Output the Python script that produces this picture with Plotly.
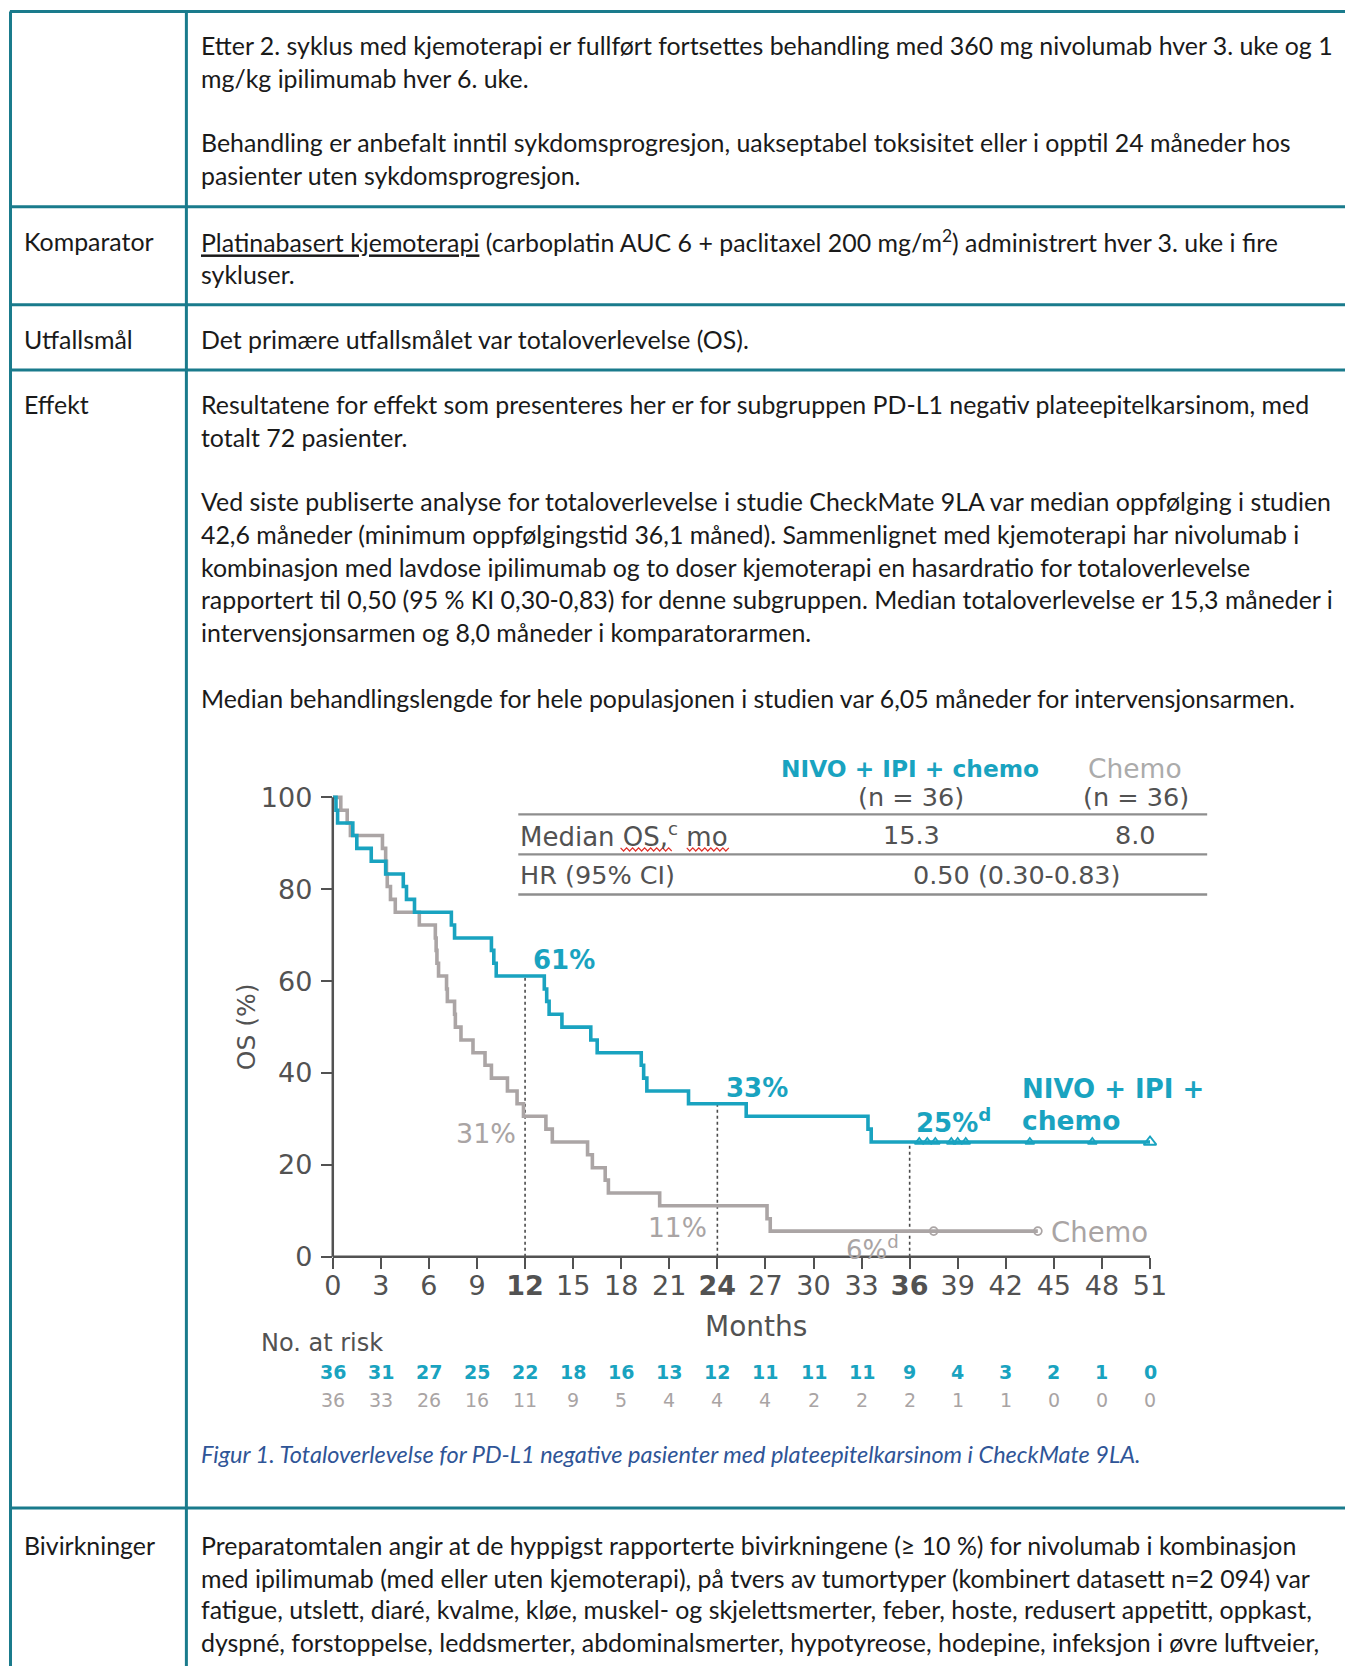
import plotly.graph_objects as go

# ---------------------------------------------------------------------------
# Page geometry.  Positions below are written in layout pixels of the page;
# px()/py() turn them into paper fractions, including a small calibration
# of the rendered page (slight shrink plus a left offset).
# ---------------------------------------------------------------------------
W, H = 1345, 1682
SX, OX = 0.9906, 9.1
SY, OY = 0.98885, 2.5


def px(x):
    return ((x - OX) / SX) / W


def py(y):
    return 1 - ((y - OY) / SY) / H


TEAL_TABLE = "#1A7B8C"
TEAL = "#19A3C0"
GREY_LINE = "#ABA5A5"
GREY_TEXT = "#A9A4A4"
DARK = "#525252"
BODY = "#1A1A1A"
CAPTION = "#2F5597"
BODY_FONT = "Lato"
CHART_FONT = "DejaVu Sans"
BODY_SIZE = 24.9

# ---------------------------------------------------------------------------
# Kaplan-Meier data: overall survival (%) by month
# ---------------------------------------------------------------------------
nivo_t = [0, 0.2, 0.3, 1.25, 1.5, 2.4, 3.3, 4.4, 4.6, 5.1, 7.4, 7.6, 9.9, 10.05,
          10.2, 13.2, 13.35, 13.5, 14.3, 16.1, 16.5, 19.25, 19.4, 19.6, 22.2,
          25.8, 33.4, 33.6, 51.0]
nivo_s = [100, 97.2, 94.4, 91.7, 88.9, 86.1, 83.3, 80.6, 77.8, 75.0, 72.2, 69.4,
          66.7, 63.9, 61.1, 58.3, 55.6, 52.8, 50.0, 47.2, 44.4, 41.7, 38.9, 36.1,
          33.3, 30.6, 27.8, 25.0, 25.0]

chemo_t = [0, 0.5, 0.9, 1.1, 3.1, 3.3, 3.35, 3.4, 3.6, 3.9, 5.4, 6.4, 6.45, 6.5,
           6.6, 7.1, 7.15, 7.6, 7.65, 8.0, 8.75, 9.5, 9.9, 10.9, 11.5, 11.9, 13.3,
           13.7, 15.9, 16.2, 17.0, 17.2, 20.4, 27.1, 27.3, 44.0]
chemo_s = [100, 97.2, 94.4, 91.7, 88.9, 86.1, 83.3, 80.6, 77.8, 75.0, 72.2, 69.4,
           66.7, 63.9, 61.1, 58.3, 55.6, 52.8, 50.0, 47.2, 44.4, 41.7, 38.9, 36.1,
           33.3, 30.6, 27.8, 25.0, 22.2, 19.4, 16.7, 13.9, 11.1, 8.3, 5.6, 5.6]

# censoring marks
nivo_cens_t = [36.6, 37.1, 37.6, 38.6, 39.0, 39.5, 43.5, 47.4]
nivo_cens_s = [25.0, 25.0, 25.0, 25.0, 25.0, 25.0, 25.0, 25.0]
nivo_end_t = [51.0]
nivo_end_s = [25.0]
chemo_cens_t = [37.5, 44.0]
chemo_cens_s = [5.6, 5.6]

# landmark rates (month, OS %)
nivo_landmarks = [(12, 61.1), (24, 33.3), (36, 25.0)]

# number at risk
risk_months = list(range(0, 52, 3))
risk_nivo = [36, 31, 27, 25, 22, 18, 16, 13, 12, 11, 11, 11, 9, 4, 3, 2, 1, 0]
risk_chemo = [36, 33, 26, 16, 11, 9, 5, 4, 4, 4, 2, 2, 2, 1, 1, 0, 0, 0]

x_ticks = list(range(0, 52, 3))
x_ticktext = [f"<b>{m}</b>" if m in (12, 24, 36) else str(m) for m in x_ticks]
y_ticks = [0, 20, 40, 60, 80, 100]

# ---------------------------------------------------------------------------
# Axis placement: month 0 at x=332 px, 51 at 1147 px; 0 % at y=1256, 100 % at 797
# ---------------------------------------------------------------------------
X0, PX_PER_MONTH = 332, (1147 - 332) / 51
Y0, PX_PER_PCT = 1256, (1256 - 797) / 100
XMAX, YMAX = 52.5, 103
x_domain = [px(X0), px(X0 + XMAX * PX_PER_MONTH)]
y_domain = [py(Y0), py(Y0 - YMAX * PX_PER_PCT)]

fig = go.Figure()

fig.add_trace(go.Scatter(x=chemo_t, y=chemo_s, mode="lines", line_shape="hv",
                         line=dict(color=GREY_LINE, width=3.6), hoverinfo="skip"))
fig.add_trace(go.Scatter(x=nivo_t, y=nivo_s, mode="lines", line_shape="hv",
                         line=dict(color=TEAL, width=3.6), hoverinfo="skip"))
fig.add_trace(go.Scatter(x=chemo_cens_t, y=chemo_cens_s, mode="markers",
                         marker=dict(symbol="circle-open", size=8, color=GREY_LINE,
                                     line=dict(width=1.7)), hoverinfo="skip"))
fig.add_trace(go.Scatter(x=nivo_cens_t, y=nivo_cens_s, mode="markers",
                         marker=dict(symbol="triangle-up-open", size=8, color=TEAL,
                                     line=dict(width=1.7)), hoverinfo="skip"))
fig.add_trace(go.Scatter(x=nivo_end_t, y=nivo_end_s, mode="markers",
                         marker=dict(symbol="triangle-up-open", size=11, color=TEAL,
                                     line=dict(width=1.9)), hoverinfo="skip"))

shapes = []
annotations = []

# landmark guide lines
for m, s in nivo_landmarks:
    shapes.append(dict(type="line", xref="x", yref="y", x0=m, x1=m, y0=0, y1=s,
                       line=dict(color="#4A4A4A", width=1.6, dash="3px,3px"),
                       layer="below"))

# axis lines
shapes.append(dict(type="line", xref="paper", yref="paper",
                   x0=px(X0), x1=px(X0), y0=py(Y0), y1=py(797),
                   line=dict(color=DARK, width=2.5)))
shapes.append(dict(type="line", xref="paper", yref="paper",
                   x0=px(X0), x1=px(1147), y0=py(Y0), y1=py(Y0),
                   line=dict(color=DARK, width=2.5)))

# ---------------------------------------------------------------------------
# Table borders
# ---------------------------------------------------------------------------
for yy in [12, 207, 305, 370, 1507]:
    shapes.append(dict(type="line", xref="paper", yref="paper",
                       x0=px(10), x1=1, y0=py(yy), y1=py(yy),
                       line=dict(color=TEAL_TABLE, width=3)))
for xx in [10.6, 186]:
    shapes.append(dict(type="line", xref="paper", yref="paper",
                       x0=px(xx), x1=px(xx), y0=py(12), y1=0,
                       line=dict(color=TEAL_TABLE, width=3)))


def body(text, x, y, size=BODY_SIZE, color=BODY, italic=False):
    annotations.append(dict(
        text=text, x=px(x), y=py(y), xref="paper", yref="paper",
        xanchor="left", yanchor="middle", showarrow=False,
        font=dict(family=BODY_FONT, size=size, color=color,
                  style="italic" if italic else "normal")))


C1, C2 = 22, 199
body("Etter 2. syklus med kjemoterapi er fullført fortsettes behandling med 360 mg nivolumab hver 3. uke og 1", C2, 45)
body("mg/kg ipilimumab hver 6. uke.", C2, 78)
body("Behandling er anbefalt inntil sykdomsprogresjon, uakseptabel toksisitet eller i opptil 24 måneder hos", C2, 142)
body("pasienter uten sykdomsprogresjon.", C2, 175)

body("Komparator", C1, 241)
body("<span style=\"text-decoration:underline\">Platinabasert kjemoterapi</span> (carboplatin AUC 6 + paclitaxel 200 mg/m<sup>2</sup>) administrert hver 3. uke i fire", C2, 241)
body("sykluser.", C2, 274)

body("Utfallsmål", C1, 339)
body("Det primære utfallsmålet var totaloverlevelse (OS).", C2, 339)

body("Effekt", C1, 404)
body("Resultatene for effekt som presenteres her er for subgruppen PD-L1 negativ plateepitelkarsinom, med", C2, 404)
body("totalt 72 pasienter.", C2, 437)
body("Ved siste publiserte analyse for totaloverlevelse i studie CheckMate 9LA var median oppfølging i studien", C2, 501)
body("42,6 måneder (minimum oppfølgingstid 36,1 måned). Sammenlignet med kjemoterapi har nivolumab i", C2, 534)
body("kombinasjon med lavdose ipilimumab og to doser kjemoterapi en hasardratio for totaloverlevelse", C2, 567)
body("rapportert til 0,50 (95 % KI 0,30-0,83) for denne subgruppen. Median totaloverlevelse er 15,3 måneder i", C2, 599)
body("intervensjonsarmen og 8,0 måneder i komparatorarmen.", C2, 632)
body("Median behandlingslengde for hele populasjonen i studien var 6,05 måneder for intervensjonsarmen.", C2, 698)

body("Figur 1. Totaloverlevelse for PD-L1 negative pasienter med plateepitelkarsinom i CheckMate 9LA.",
     C2, 1453, size=23.5, color=CAPTION, italic=True)

body("Bivirkninger", C1, 1544)
body("Preparatomtalen angir at de hyppigst rapporterte bivirkningene (≥ 10 %) for nivolumab i kombinasjon", C2, 1544)
body("med ipilimumab (med eller uten kjemoterapi), på tvers av tumortyper (kombinert datasett n=2 094) var", C2, 1577)
body("fatigue, utslett, diaré, kvalme, kløe, muskel- og skjelettsmerter, feber, hoste, redusert appetitt, oppkast,", C2, 1608)
body("dyspné, forstoppelse, leddsmerter, abdominalsmerter, hypotyreose, hodepine, infeksjon i øvre luftveier,", C2, 1641)


# ---------------------------------------------------------------------------
# Summary table above the curves
# ---------------------------------------------------------------------------
def ptxt(text, x, y, size=25.5, color=DARK, anchor="center", bold=False):
    annotations.append(dict(
        text=text, x=px(x), y=py(y), xref="paper", yref="paper",
        xanchor=anchor, yanchor="middle", showarrow=False,
        font=dict(family=CHART_FONT, size=size, color=color,
                  weight="bold" if bold else "normal")))


ptxt("NIVO + IPI + chemo", 908, 768, size=23.3, color=TEAL, bold=True)
ptxt("(n = 36)", 909, 797)
ptxt("Chemo", 1132, 768, size=26.5, color="#ABABAB")
ptxt("(n = 36)", 1133, 797)
ptxt("Median OS,<sup>c</sup> mo", 517, 835, size=26, anchor="left")
ptxt("15.3", 909, 835)
ptxt("8.0", 1133, 835)
ptxt("HR (95% CI)", 517, 875, anchor="left")
ptxt("0.50 (0.30-0.83)", 1014, 875)
for yy in [814, 854, 894]:
    shapes.append(dict(type="line", xref="paper", yref="paper",
                       x0=px(517), x1=px(1204), y0=py(yy), y1=py(yy),
                       line=dict(color="#8E8E8E", width=2.4)))


# red proofing squiggle under "OS,c" and "mo"
def squiggle(x_start, x_end, y, step=3.0, amp=1.6):
    pts = []
    x = x_start
    k = 0
    while x <= x_end:
        pts.append((x, y + (amp if k % 2 else -amp)))
        x += step
        k += 1
    d = "M " + " L ".join(f"{px(a):.5f},{py(b):.5f}" for a, b in pts)
    return dict(type="path", xref="paper", yref="paper", path=d,
                line=dict(color="#E0302A", width=1.2))


shapes.append(squiggle(619, 672, 849))
shapes.append(squiggle(685, 727, 849))


# ---------------------------------------------------------------------------
# Labels inside the plot
# ---------------------------------------------------------------------------
def dtxt(text, x, y, size=26, color=TEAL, anchor="left", bold=False):
    annotations.append(dict(
        text=text, x=x, y=y, xref="x", yref="y", xanchor=anchor,
        yanchor="middle", showarrow=False,
        font=dict(family=CHART_FONT, size=size, color=color,
                  weight="bold" if bold else "normal")))


dtxt("61%", 12.4, 64.6, bold=True)
dtxt("33%", 24.4, 36.8, bold=True)
dtxt("25%<sup>d</sup>", 36.3, 29.6, bold=True)
dtxt("NIVO + IPI +", 42.9, 36.6, size=26, bold=True)
dtxt("chemo", 42.9, 29.6, size=26.5, bold=True)
dtxt("31%", 11.55, 26.8, color=GREY_TEXT, anchor="right", size=27)
dtxt("11%", 23.45, 6.3, color=GREY_TEXT, anchor="right", size=26.5)
dtxt("6%<sup>d</sup>", 31.9, 2.0, color=GREY_TEXT, size=26)
dtxt("Chemo", 44.7, 5.3, color=GREY_TEXT, size=27.5)

# axis titles
annotations.append(dict(text="OS (%)", x=px(246), y=py(1026), xref="paper", yref="paper",
                        textangle=-90, showarrow=False, xanchor="center", yanchor="middle",
                        font=dict(family=CHART_FONT, size=25, color=DARK)))
annotations.append(dict(text="Months", x=px(754), y=py(1326), xref="paper", yref="paper",
                        showarrow=False, xanchor="center", yanchor="middle",
                        font=dict(family=CHART_FONT, size=28, color=DARK)))

# number at risk table
annotations.append(dict(text="No. at risk", x=px(258), y=py(1342), xref="paper", yref="paper",
                        showarrow=False, xanchor="left", yanchor="middle",
                        font=dict(family=CHART_FONT, size=24, color=DARK)))
for m, n1, n2 in zip(risk_months, risk_nivo, risk_chemo):
    annotations.append(dict(text=f"<b>{n1}</b>", x=m, y=py(1371), xref="x", yref="paper",
                            showarrow=False, xanchor="center", yanchor="middle",
                            font=dict(family=CHART_FONT, size=19, color=TEAL)))
    annotations.append(dict(text=str(n2), x=m, y=py(1399), xref="x", yref="paper",
                            showarrow=False, xanchor="center", yanchor="middle",
                            font=dict(family=CHART_FONT, size=19, color=GREY_TEXT)))

fig.update_layout(
    width=W, height=H,
    margin=dict(l=0, r=0, t=0, b=0),
    paper_bgcolor="white", plot_bgcolor="rgba(0,0,0,0)",
    showlegend=False,
    font=dict(family=CHART_FONT, color=DARK),
    shapes=shapes,
    annotations=annotations,
    xaxis=dict(domain=x_domain, range=[0, XMAX], showgrid=False, zeroline=False,
               showline=False, tickmode="array", tickvals=x_ticks, ticktext=x_ticktext,
               ticks="outside", ticklen=11, tickwidth=2.2, tickcolor=DARK,
               tickfont=dict(family=CHART_FONT, size=27, color=DARK),
               ticklabelstandoff=-6, fixedrange=True),
    yaxis=dict(domain=y_domain, range=[0, YMAX], showgrid=False, zeroline=False,
               showline=False, tickmode="array", tickvals=y_ticks,
               ticks="outside", ticklen=11, tickwidth=2.2, tickcolor=DARK,
               tickfont=dict(family=CHART_FONT, size=27, color=DARK),
               ticklabelstandoff=3, fixedrange=True),
)

fig.write_html("out.html")
